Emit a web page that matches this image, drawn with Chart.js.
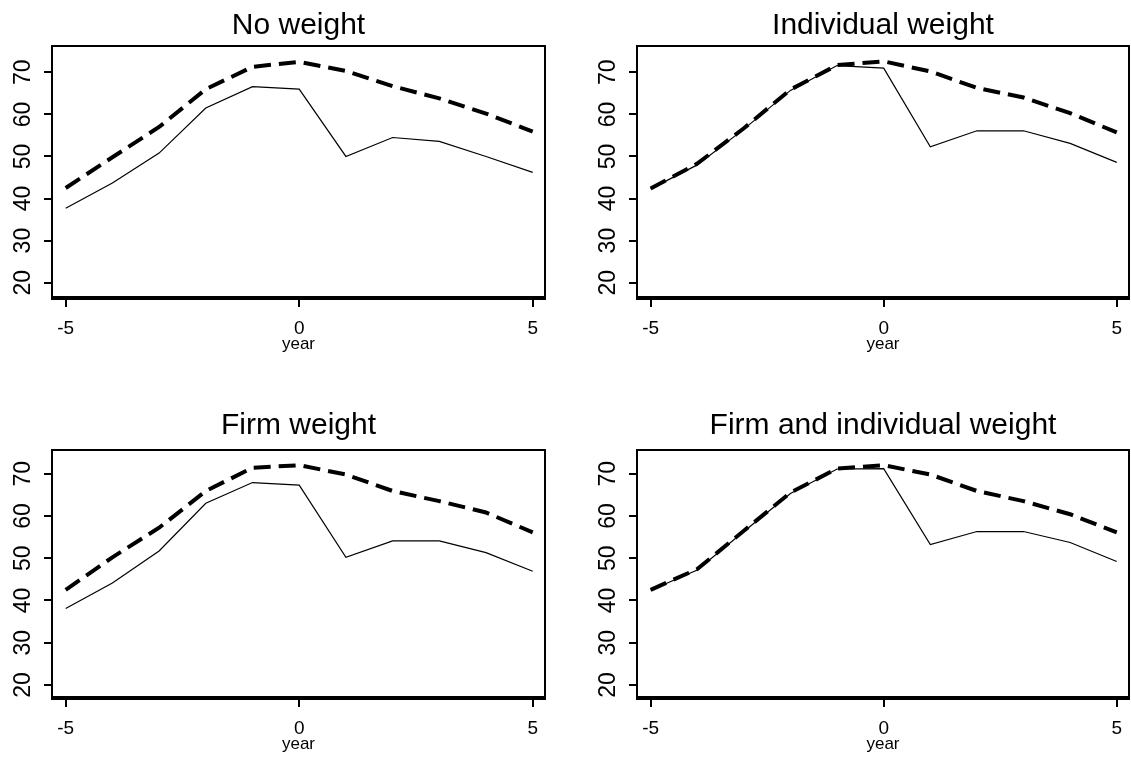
<!DOCTYPE html>
<html>
<head>
<meta charset="utf-8">
<script src="https://cdn.jsdelivr.net/npm/chart.js@4.4.0/dist/chart.umd.min.js"></script>
<style>
	html, body { margin: 0; padding: 0; background: #fff; overflow: hidden; }
	body { width: 1131px; height: 762px; position: relative; }
	canvas { position: absolute; }
</style>
</head>
<body>
<canvas id="c1" width="597" height="360" style="left:0px;top:0px"></canvas>
<canvas id="c2" width="596" height="360" style="left:585px;top:0px"></canvas>
<canvas id="c3" width="597" height="382" style="left:0px;top:380px"></canvas>
<canvas id="c4" width="596" height="382" style="left:585px;top:380px"></canvas>
<script>
const years = [-5, -4, -3, -2, -1, 0, 1, 2, 3, 4, 5];
const xTicks = [-5, 0, 5];
const yTicks = [20, 30, 40, 50, 60, 70];
const titles = ['No weight', 'Individual weight', 'Firm weight', 'Firm and individual weight'];

// dashed = upper series, solid = lower series
const noWeightDashed = [42.5, 49.8, 57.0, 66.0, 71.3, 72.5, 70.3, 66.7, 63.8, 60.2, 55.9];
const noWeightSolid = [37.7, 43.7, 50.8, 61.5, 66.6, 66.0, 50.0, 54.5, 53.6, 50.0, 46.2];
const indivDashed = [42.4, 48.3, 56.7, 65.9, 71.7, 72.6, 70.2, 66.3, 64.0, 60.3, 55.7];
const indivSolid = [42.3, 48.0, 56.5, 65.7, 71.6, 71.0, 52.3, 56.1, 56.1, 53.1, 48.6];
const firmDashed = [42.5, 50.2, 57.2, 65.9, 71.4, 72.0, 69.8, 65.9, 63.5, 60.8, 56.1];
const firmSolid = [38.1, 44.1, 51.7, 63.0, 67.9, 67.3, 50.2, 54.1, 54.1, 51.3, 46.9];
const bothDashed = [42.5, 47.4, 56.5, 65.5, 71.2, 72.0, 69.8, 65.9, 63.5, 60.4, 56.1];
const bothSolid = [42.4, 47.2, 56.3, 65.3, 71.1, 71.2, 53.2, 56.3, 56.3, 53.7, 49.2];

const FONT = '"Liberation Sans", Arial, sans-serif';

// box around the plot region + rotated y labels
const framePlugin = {
	id: 'frame',
	afterDraw(chart) {
		const ctx = chart.ctx;
		const a = chart.chartArea;
		ctx.save();
		ctx.strokeStyle = '#000';
		ctx.lineWidth = 2;
		ctx.strokeRect(a.left, a.top, a.right - a.left, a.bottom - a.top);
		ctx.lineWidth = 4;
		ctx.beginPath();
		ctx.moveTo(a.left - 1, a.bottom);
		ctx.lineTo(a.right + 1, a.bottom);
		ctx.stroke();

		const yScale = chart.scales.y;
		ctx.fillStyle = '#000';
		ctx.font = '23px ' + FONT;
		ctx.textAlign = 'center';
		ctx.textBaseline = 'middle';
		yScale.ticks.forEach(t => {
			const y = yScale.getPixelForValue(t.value);
			ctx.save();
			ctx.translate(a.left - 28.5, y);
			ctx.rotate(-Math.PI / 2);
			ctx.fillText(String(t.value), 0, 0);
			ctx.restore();
		});
		ctx.restore();
	}
};

const toPoints = vals => vals.map((v, i) => ({ x: years[i], y: v }));

function makePanel(id, title, dashed, solid, row) {
	const top = row === 0;
	const yMin = top ? 16.36 : 16.9;
	const yMax = top ? 76.25 : 75.6;

	return new Chart(document.getElementById(id).getContext('2d'), {
		type: 'line',
		data: {
			datasets: [{
				data: toPoints(solid),
				borderColor: '#000',
				borderWidth: 1.2,
				pointRadius: 0,
				tension: 0
			}, {
				data: toPoints(dashed),
				borderColor: '#000',
				borderWidth: 4,
				borderDash: [17, 8],
				pointRadius: 0,
				tension: 0
			}]
		},
		options: {
			responsive: false,
			devicePixelRatio: 1,
			animation: false,
			layout: { padding: { left: 0, right: 0, top: 0, bottom: top ? 7.5 : 9.5 } },
			plugins: {
				legend: { display: false },
				tooltip: { enabled: false },
				title: {
					display: true,
					text: title,
					color: '#000',
					font: { family: FONT, size: 30, weight: 'normal', lineHeight: 1 },
					padding: top ? { top: 10.6, bottom: 5.4 } : { top: 30.6, bottom: 9.4 }
				}
			},
			scales: {
				x: {
					type: 'linear',
					min: -5.293,
					max: 5.263,
					afterBuildTicks: s => { s.ticks = xTicks.map(v => ({ value: v })); },
					afterFit: s => { s.height = 54.5; },
					grid: { drawOnChartArea: false, tickLength: 9, color: '#000', lineWidth: 2 },
					border: { display: false },
					ticks: {
						color: '#000',
						padding: 12,
						maxRotation: 0,
						font: { family: FONT, size: 19, lineHeight: 1 },
						callback: v => String(v)
					},
					title: {
						display: true,
						text: 'year',
						color: '#000',
						padding: 0,
						font: { family: FONT, size: 17, lineHeight: 1 }
					}
				},
				y: {
					min: yMin,
					max: yMax,
					afterBuildTicks: s => { s.ticks = yTicks.map(v => ({ value: v })); },
					afterFit: s => { s.width = 52; },
					grid: { drawOnChartArea: false, tickLength: 8, color: '#000', lineWidth: 2 },
					border: { display: false },
					ticks: { display: false }
				},
				// empty right axis so the title centres on the plot box
				yr: {
					position: 'right',
					display: true,
					afterFit: s => { s.width = 52; },
					grid: { display: false },
					border: { display: false },
					ticks: { display: false }
				}
			}
		},
		plugins: [framePlugin]
	});
}

makePanel('c1', titles[0], noWeightDashed, noWeightSolid, 0);
makePanel('c2', titles[1], indivDashed, indivSolid, 0);
makePanel('c3', titles[2], firmDashed, firmSolid, 1);
makePanel('c4', titles[3], bothDashed, bothSolid, 1);
</script>
</body>
</html>
